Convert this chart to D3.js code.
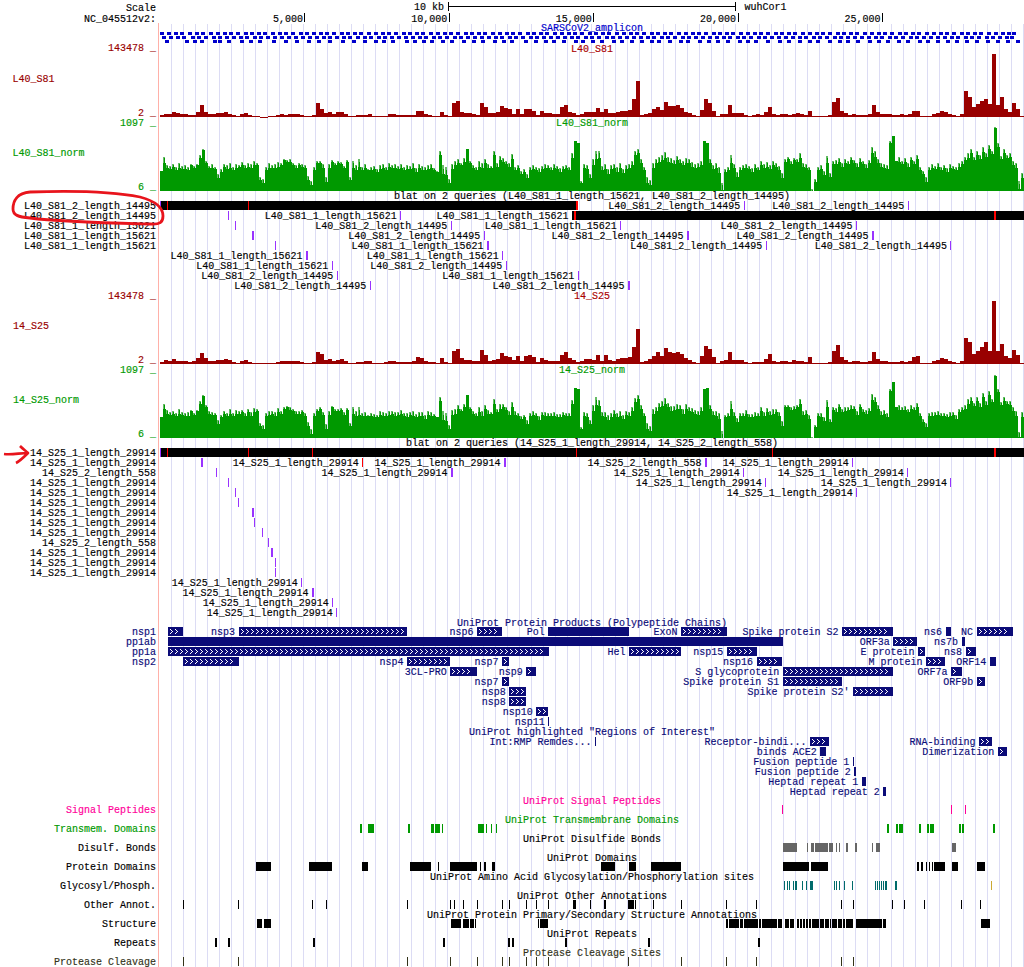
<!DOCTYPE html>
<html><head><meta charset="utf-8">
<script src="https://cdn.jsdelivr.net/npm/d3@7"></script>
<style>html,body{margin:0;padding:0;background:#fff;overflow:hidden}svg{display:block}
text{font-family:"Liberation Mono","DejaVu Sans Mono",monospace;font-size:10px;white-space:pre;stroke:currentColor;stroke-width:.15px}</style>
</head><body><div id="c"></div>
<script>
const genomeLength = 29903;
const ntPerBin = 34.63;
const rulerTicks = [5000,10000,15000,20000,25000];
const gridBins = d3.range(0,72);

const coverageS81 = [2,3,3,5,4,3,3,2,2,5,12,5,3,3,4,4,5,3,2,1,3,4,2,1,1,.5,.5,1,1,2,3,2,3,3,3,2,1,1,2,14,8,4,5,3,5,5,3,1,1,2,2,2,3,1,1,1,1.5,3,3,2,2,2,2,2,6,6,3,2,1,1,5,2,1,14,16,5,4,4,3,2,14,10,4,4,5,11,9,8,
3,8,3,8,8,6,2,6,4,4,3,3,10,12,5,4,2,3,5,5,5,9,5,8,4,4,5,6,6,7,18,36,2,3,4,8,10,7,15,11,11,12,9,5,4,2,1,7,18,14,6,1,3,3,12,4,4,4,2,1,2,3,2,5,10,3,2,3,3,2,3,4,3,2,6,1,1,1,1,2,15,19,6,4,2,3,2,2,2,3,12,5,3,3,3,2,2,3,2,3,6,6,1,1,1,3,4,6,5,3,2,1,3,26,20,10,13,16,18,13,63,12,20,8,5,14,8,1];
const coverageS25 = [2,4,3,5,3,3,3,2,3,6,11,6,3,3,4,4,5,4,2,1,3,4,2,1,1,.5,.5,1,1,2,3,3,3,3,3,2,1,1,2,12,10,4,5,3,4,5,3,1,1,2,2,3,3,1,1,1,2,3,3,2,2,2,2,3,7,6,3,2,2,1,6,2,1,13,15,6,4,4,3,3,14,9,3,4,5,11,8,7,
4,8,3,8,9,7,2,6,4,3,3,3,9,12,6,4,2,3,5,5,4,9,3,9,4,3,5,6,6,7,17,35,2,3,5,8,12,8,16,12,11,12,10,6,4,2,1,8,18,15,7,1,3,4,12,4,4,4,2,1,2,2,2,5,10,3,2,3,3,2,4,3,3,2,7,1,1,1,1,2,13,19,7,4,2,3,3,2,2,3,12,5,3,3,2,2,2,3,2,3,7,8,1,1,1,3,4,6,5,3,2,1,3,26,22,10,13,17,22,13,63,13,20,8,6,14,9,1];

const maxS81 = [20,34,26,25,27,24,28,25,26,24,27,25,27,36,42,30,25,27,24,17,22,27,26,28,24,27,26,29,26,28,27,30,28,14,12,24,28,26,27,29,28,32,31,32,28,26,28,27,26,15,10,24,30,30,27,14,27,31,28,30,29,25,31,14,30,26,32,24,27,22,24,25,22,26,27,24,28,26,27,25,27,24,26,25,28,23,27,25,24,26,27,23,20,40,26,24,12,27,30,32,28,33,42,30,26,24,30,28,32,27,25,40,28,35,33,30,28,37,
24,26,20,22,17,24,26,24,23,25,27,26,24,27,25,23,25,26,24,38,50,48,10,27,26,17,32,40,40,25,27,22,26,27,24,28,22,26,27,30,40,42,32,24,14,11,28,32,34,36,39,34,33,31,35,32,30,33,32,29,27,28,30,50,48,32,26,28,24,8,22,24,36,27,19,24,26,27,25,23,27,24,30,27,29,26,30,28,25,18,32,34,30,33,32,38,28,27,24,2,12,24,26,20,35,18,30,31,33,28,32,30,34,31,28,33,30,27,31,44,40,32,28,27,26,50,55,30,34,30,33,28,34,30,36,24,20,14,24,27,25,28,24,26,23,27,25,24,28,30,34,38,42,34,40,36,44,38,46,40,64,48,35,42,36,38,30,28,10,18];
const meanS81 = [20,24,20,19,21,18,20,19,19,18,22,20,22,28,34,24,20,20,19,12,17,21,19,20,18,20,21,22,20,21,20,22,22,10,8,18,20,20,20,21,22,26,25,25,22,20,22,21,20,10,6,18,24,24,20,9,20,25,22,24,23,20,25,10,20,18,21,18,20,18,18,19,17,19,20,18,21,20,20,19,20,18,19,19,20,17,20,18,18,19,20,18,17,30,15,14,8,19,22,24,22,25,36,24,20,18,21,20,24,20,20,30,21,26,25,23,21,27,
18,20,15,17,12,18,19,18,17,19,20,20,18,20,19,17,19,20,18,28,48,46,8,20,19,12,22,27,28,18,19,15,19,20,17,20,16,19,20,22,30,32,24,18,8,6,20,24,25,26,28,25,24,23,26,24,22,24,24,21,20,21,22,44,40,24,19,20,16,2,17,18,24,20,13,18,20,20,19,17,20,18,22,20,21,19,22,21,18,12,25,27,23,26,25,28,21,20,18,1,9,18,19,14,24,13,23,23,25,21,24,23,26,24,21,25,23,20,24,32,29,24,21,20,19,40,48,27,25,23,25,21,26,23,27,18,15,9,18,20,19,21,18,20,17,20,19,18,21,23,26,28,32,26,30,27,33,29,35,31,52,37,27,32,28,29,22,20,3,12];
const maxS25 = [21,34,28,26,27,25,29,26,25,26,28,25,28,37,43,33,27,26,25,18,23,27,25,29,25,28,27,28,25,29,26,30,29,15,13,25,27,27,26,30,27,31,32,31,29,27,27,28,25,16,9,25,29,31,26,14,27,32,29,29,30,26,30,15,31,27,31,25,26,23,25,24,23,27,26,25,27,27,26,26,28,25,25,26,27,24,26,26,23,27,26,24,21,41,27,25,13,28,29,33,29,34,43,31,27,25,31,27,33,28,26,39,29,34,34,31,27,36,
27,25,22,23,18,25,27,25,22,26,26,25,25,26,24,24,26,25,25,38,50,49,11,26,25,18,33,41,38,26,26,23,25,28,25,27,23,27,26,31,40,43,33,25,15,12,29,31,35,37,40,35,32,32,34,33,29,34,31,30,28,27,31,49,50,33,27,27,25,7,23,25,37,26,20,25,25,28,24,24,26,25,31,26,30,27,29,29,26,17,33,33,31,32,33,39,27,28,23,1,13,25,25,21,38,19,31,30,34,29,31,31,33,32,27,34,29,28,30,44,41,33,27,28,25,49,56,31,33,31,32,29,33,31,35,25,19,15,25,26,26,27,25,25,24,26,26,23,29,31,33,39,41,35,41,35,45,37,47,39,63,49,36,41,37,37,31,27,6,26];
const meanS25 = [20,25,21,20,21,19,21,20,19,19,23,20,23,29,35,26,21,20,20,13,18,21,19,21,19,21,21,22,19,22,19,22,23,11,9,19,20,21,19,22,21,25,26,24,23,21,21,22,19,11,5,19,23,25,20,9,20,26,23,23,24,20,24,11,21,19,20,19,19,19,19,18,18,20,19,19,20,21,19,20,21,19,18,20,19,18,19,19,17,20,19,19,18,31,16,15,9,20,21,25,23,26,37,25,21,19,22,19,25,21,21,29,22,25,26,24,20,26,
20,19,17,18,13,19,20,19,16,20,19,19,19,19,18,18,20,19,19,29,48,47,9,19,18,13,23,28,27,19,18,16,18,21,18,19,17,20,19,23,30,33,25,19,9,7,21,23,26,27,29,26,23,24,25,25,21,25,23,22,21,20,23,43,42,25,20,19,17,1,18,19,25,19,14,19,19,21,18,18,19,19,23,19,22,20,21,22,19,11,26,26,24,25,26,29,20,21,17,1,10,19,18,15,26,14,24,22,26,22,23,24,25,25,20,26,22,21,23,32,30,25,20,21,18,39,49,28,24,24,24,22,25,24,26,19,14,10,19,19,20,20,19,19,18,19,20,17,22,24,25,29,31,27,31,26,34,28,36,30,51,38,28,31,29,28,23,19,2,18];

const ampliconRow1 = [0,7,14,20,28,35,41,49,56,63,69,76,84,90,97,103,111,118,124,131,139,145,152,159,165,172,180,186,193,199,207,214,221,227,234,242,248,255,261,269,276,283,289,296,304,310,317,323,331,338,345,351,358,366,372,379,385,393,400,407,413,420,428,434,441,447,455,462,469,475,482,490,496,503,509,517,524,531,537,544,552,558,565,571,579,586,593,599,606,614,620,627,633,641,648,655,661,668,676,682,689,695,703,710,717,723,730,738,744,751,757,765,772,779,785,792,800,806,813,819,827,834,841,847,852];
const ampliconRow2 = [2,9,16,22,31,37,44,52,58,65,72,79,85,93,99,106,113,120,127,134,141,148,155,162,168,175,182,188,196,203,209,217,223,230,237,244,251,258,264,272,278,285,293,299,306,313,320,327,334,340,348,354,361,369,375,382,389,396,403,410,416,424,430,437,445,451,458,465,472,479,486,492,500,506,513,521,527,534,541,548,555,562,568,576,582,589,597,603,610,617,624,631,638,644,652,658,665,673,679,686,693,700,707,714,720,728,734,741,749,755,762,769,776,783,790,796,804,810,817,825,831,838,845,850];
const ampliconRow3 = [5,25,33,40,53,58,67,80,89,98,112,124,135,147,157,168,181,192,203,214,222,231,245,253,262,270,281,290,302,312,321,333,342,350,364,374,384,392,402,414,421,431,440,452,460,470,480,490,497,508,519,526,538,547,556,566,578,586,594,606,618,627,638,648,656,668,678,686,696,708,717,726,737,746,758,766,776,786,795,805,815,826,836,846,856];

const qS81a = "L40_S81_1_length_15621", qS81b = "L40_S81_2_length_14495";
const qS25a = "14_S25_1_length_29914", qS25b = "14_S25_2_length_558";
const blatHitsS81 = [[0,qS81b,583.7,1],[0,qS81b,747.7,1],[1,qS81b,68.3,1],[1,qS81a,240.3,1],[2,qS81a,75,1],[2,qS81b,290.7,1],[2,qS81a,460.3,1],[2,qS81b,696,1],[3,qS81a,92,2],[3,qS81b,323.7,1],[3,qS81b,527,2],[3,qS81b,712,2],[4,qS81a,115,1],[4,qS81a,327,2],[4,qS81b,605.7,1],[4,qS81b,790.3,1],[5,qS81a,146,2],[5,qS81a,342.3,1],[6,qS81a,171.7,1],[6,qS81b,345.7,1],[7,qS81b,176.7,1],[7,qS81a,417.7,1],[8,qS81b,209.7,1],[8,qS81b,468,2]];
const blatHitsS25 = [[1,qS25a,41,2],[1,qS25a,344,2],[1,qS25b,545,2],[1,qS25a,692.3,1],[2,qS25b,56.3,1],[2,qS25a,291,2],[2,qS25a,583.3,1],[2,qS25a,747.3,1],[3,qS25a,68.3,1],[3,qS25a,605.3,1],[3,qS25a,790.3,1],[4,qS25a,75.3,1],[4,qS25a,696.3,1],[5,qS25a,78.3,1],[6,qS25a,92,2],[7,qS25a,94.3,1],[8,qS25a,102.3,1],[9,qS25b,108.3,1],[10,qS25a,111,2],[11,qS25a,115.3,1],[12,qS25a,115.3,1],[13,qS25a,141.3,1],[14,qS25a,152,2],[15,qS25a,172.3,1],[16,qS25a,176.3,1]];
const redHitS25 = [[1,qS25a,202.3,1]];
const blatBoxesS81 = [[0,qS81b,0,417.7],[1,qS81a,412,864]];
const blatBoxesS25 = [[0,qS25a,0,864]];
const blatRedS81 = [[0,7,1],[0,88,1],[0,416,1.5],[1,414,1.5],[1,834,2]];
const blatRedS25 = [[0,7,1],[0,88,1],[0,152.3,1],[0,416.3,1],[0,612.3,1],[0,834,2]];

const proteinChains = [["nsp1",266,805,0,1],["nsp3",2720,8554,0,1],["nsp6",10973,11842,0,1],["Pol",13442,16236,0,0],["ExoN",18040,19620,0,1],["Spike protein S2",23615,25384,0,1],["ns6",27202,27387,0,0],["NC",28274,29533,0,1],
["pp1ab",266,21555,1,0],["ORF3a",25393,26220,1,1],["ns7b",27756,27887,1,0],
["pp1a",266,13483,2,1],["Hel",16237,18039,2,1],["nsp15",19621,20658,2,1],["E protein",26245,26472,2,1],["ns8",27894,28259,2,1],
["nsp2",806,2719,3,1],["nsp4",8555,10054,3,1],["nsp7",11843,12091,3,1],["nsp16",20659,21552,3,1],["M protein",26523,27191,3,1],["ORF14",28734,28955,3,0],
["3CL-PRO",10055,10972,4,1],["nsp9",12686,13024,4,1],["S glycoprotein",21563,25384,4,1],["ORF7a",27394,27759,4,1],
["nsp7",11843,12091,5,1],["Spike protein S1",21563,23615,5,1],["ORF9b",28284,28577,5,1],
["nsp8",12092,12685,6,1],["Spike protein S2'",24000,25384,6,1],
["nsp8",12092,12685,7,1],["nsp10",13025,13441,8,1],["nsp11",13442,13480,9,0]];
const regionsOfInterest = [["Int:RMP Remdes...",15060,15100,0,0],["Receptor-bindi...",22507,23165,0,1],["RNA-binding",28360,28810,0,1],["binds ACE2",22860,23060,1,0],["Dimerization",29010,29330,1,1],["Fusion peptide 1",23990,24045,2,0],["Fusion peptide 2",24040,24095,3,0],["Heptad repeat 1",24300,24445,4,0],["Heptad repeat 2",25040,25145,5,0]];

const signalBlocks = [[622.3,1],[791.3,1],[805.3,1]];
const transmemBlocks = [[200,2],[208,6],[248,2],[271,3],[275,5],[282,1],[318,6],[326,1],[331,1],[336,1],[727,2],[736,2],[739,4],[759,2],[767,2],[770,4],[799,2],[802,2],[833,2]];
const disulfBlocks = [[623,14],[647,1],[651,3],[655,13],[669,4],[676,1],[679,1],[686,2],[695,2],[712,1],[716,4],[792,4]];
const domainBlocks = [[96,15],[149,23],[202,6],[250,21],[278,1],[290,27],[320,1],[324,2],[332,3],[441,14],[469,7],[491,30],[623,26],[651,17],[757,2],[761,2],[766,1],[769,1],[772,1],[774,11],[792,6],[817,8]];
const glycoBlocks = [[624,1],[627,1],[629,1],[633,1],[635,2],[642,1],[646,1],[650,3],[674,1],[676,1],[679,1],[684,1],[692,1],[715,1],[717,1],[719,1],[721,1],[723,1],[725,1],[726,1],[735,2]];
const glycoYellowBlocks = [[831,1]];
const otherBlocks = [[23.3,1],[78.3,1],[152.3,1],[166.3,1],[247.3,1],[290.3,1],[294.3,1],[303.3,1],[317.3,1],[342.3,1],[349.3,1],[366.3,1],[376.3,1],[388.3,1],[413,3],[430.3,1],[444,2],[468,6],[475.3,1],[493.3,1],[521.3,1],[566.3,1],[596.3,1],[681.3,1],[693.3,1],[732.3,1],[744.3,1],[764.3,1],[801.3,1],[820.3,1]];
const structureBlocks = [[97,5],[103.5,7.5],[291,10],[303,6],[310,4],[315,1],[378,1],[380,8],[566,2],[569,10],[580,3],[584,14],[599,2],[602,15],[618,4],[625,4],[630,4],[637,2],[640,2],[643,2],[646,2],[649,2],[652,7],[660,4],[665,4],[670,1],[672,5],[678,4],[683,2],[686,7],[696,26],[723,3],[821,9]];
const repeatBlocks = [[55,2],[68,2],[153,2],[283,2],[348,2],[352,2],[405,2],[488,2],[598,2]];
const proteaseBlocks = [[23.3,1],[78.3,1],[247.3,1],[290.3,1],[317.3,1],[342.3,1],[349.3,1],[366.3,1],[376.3,1],[388.3,1],[468.3,1],[521.3,1],[566.3,1],[596.3,1],[681.3,1],[693.3,1]];

const W=1024,H=967;
const svg=d3.select("#c").append("svg").attr("width",W).attr("height",H);
const x=d3.scaleLinear().domain([0,genomeLength]).range([160,1023.6]);
const xb=b=>x(b*ntPerBin);
const NAVY="#0c0c78",RED="#990000",GREEN="#009900",LGREEN="#66bb66",PURPLE="#9933ff";
const g=svg.append("g").attr("shape-rendering","crispEdges");
function txt(s,px,py,anchor,fill){return svg.append("text").attr("x",px).attr("y",Math.round(py+3.5)).attr("text-anchor",anchor||"start").attr("fill",fill||"#000").style("color",fill||"#000").text(s);}
const titleX=592;

g.append("g").selectAll("line").data(gridBins).join("rect").attr("x",i=>171+i*12).attr("y",24).attr("width",1).attr("height",H-24).attr("fill","#dcdcf4");
g.append("rect").attr("x",158).attr("y",23).attr("width",1).attr("height",H-23).attr("fill","#ffb0a8");

txt("Scale",156,7,"end");
txt("NC_045512v2:",156,18,"end");
txt("10 kb",444,6,"end");
txt("wuhCor1",744.5,6);
const scaleStart=Math.round(x(9975)), scaleEnd=Math.round(x(19915));
g.append("rect").attr("x",scaleStart).attr("y",6).attr("width",scaleEnd-scaleStart).attr("height",1).attr("fill","#000");
[scaleStart,scaleEnd].forEach(v=>g.append("rect").attr("x",v).attr("y",2).attr("width",1).attr("height",9).attr("fill","#000"));
rulerTicks.forEach(t=>{
  g.append("rect").attr("x",Math.round(x(t))).attr("y",13).attr("width",1).attr("height",9).attr("fill","#000");
  txt(d3.format(",")(t),x(t)-1.5,18,"end");
});

txt("SARSCoV2_amplicon",titleX,27,"middle","#0000cc");
[ampliconRow1,ampliconRow2,ampliconRow3].forEach((row,r)=>{
  g.append("g").selectAll("rect").data(row).join("rect").attr("x",d=>xb(d)).attr("y",32+r*4).attr("width",d=>Math.min(xb(d+4),1024)-xb(d)).attr("height",3).attr("fill","#0000cc");
});

function coverage(vals,base,color){
  const binNt=genomeLength/vals.length;
  const y=d3.scaleLinear().domain([0,69]).range([base,base-69]);
  g.append("g").selectAll("rect").data(vals).join("rect")
   .attr("x",(d,i)=>Math.round(x(i*binNt))).attr("width",(d,i)=>Math.round(x((i+1)*binNt))-Math.round(x(i*binNt)))
   .attr("y",d=>y(d)).attr("height",d=>Math.max(base-y(d),1)).attr("fill",color);
}
// whiskers: light maximum per bin, dark mean with a narrower upper part
function wiggle(maxV,meanV,base){
  const binNt=genomeLength/maxV.length;
  const y=d3.scaleLinear().domain([0,69]).range([base,base-69]);
  const yMean=d3.scaleLinear().domain([0,55]).range([base,base-69]);
  const px=(i)=>Math.round(x(i*binNt));
  g.append("g").selectAll("rect").data(maxV).join("rect")
   .attr("x",(d,i)=>px(i)).attr("width",2).attr("y",d=>y(d)).attr("height",d=>base-y(d)).attr("fill",LGREEN);
  g.append("g").selectAll("rect").data(meanV).join("rect")
   .attr("x",(d,i)=>px(i)).attr("width",3)
   .attr("y",(d,i)=>Math.max(yMean(d)+2,y(maxV[i]))).attr("height",(d,i)=>base-Math.max(yMean(d)+2,y(maxV[i]))).attr("fill",GREEN);
  g.append("g").selectAll("rect").data(meanV).join("rect")
   .attr("x",(d,i)=>px(i)+1).attr("width",1)
   .attr("y",(d,i)=>Math.max(yMean(d)-3,y(maxV[i])+1)).attr("height",(d,i)=>base-Math.max(yMean(d)-3,y(maxV[i])+1)).attr("fill",GREEN);
}
function axisLabels(hi,lo,color,py0,py1){
  txt(hi+" _",156,py0,"end",color); txt(lo+" _",156,py1,"end",color);
}
txt("L40_S81",titleX,48,"middle","#aa0000");
axisLabels("143478","2",RED,47.5,112);
txt("L40_S81",12.5,78,"start",RED);
coverage(coverageS81,117,RED);
txt("L40_S81_norm",titleX,122,"middle",GREEN);
axisLabels("1097","6",GREEN,122,186);
txt("L40_S81_norm",12.5,152,"start",GREEN);
wiggle(maxS81,meanS81,191);
txt("14_S25",titleX,295,"middle","#aa0000");
axisLabels("143478","2",RED,295,359);
txt("14_S25",13,325,"start",RED);
coverage(coverageS25,363.5,RED);
txt("14_S25_norm",titleX,369,"middle",GREEN);
axisLabels("1097","6",GREEN,369,433);
txt("14_S25_norm",13,399,"start",GREEN);
wiggle(maxS25,meanS25,438);

function hitLabel(s,anchorX,cy,fill){
  const w=s.length*6;
  if(anchorX-3.5-w<160) txt(s,156,cy,"end",fill); else txt(s,anchorX-3.5,cy,"end",fill);
}
function blat(top,title,hits,boxes,reds,redHits){
  txt(title,titleX,top-5.5,"middle");
  const rowY=r=>top+r*10;
  g.append("g").selectAll("rect").data(boxes).join("rect").attr("x",d=>xb(d[2])).attr("width",d=>Math.min(xb(d[3]),1024)-xb(d[2])).attr("y",d=>rowY(d[0])).attr("height",9).attr("fill","#000");
  boxes.forEach(d=>hitLabel(d[1],xb(d[2]),rowY(d[0])+4.5));
  g.append("rect").attr("x",160).attr("y",top).attr("width",1).attr("height",9).attr("fill",PURPLE);
  g.append("g").selectAll("rect").data(reds).join("rect").attr("x",d=>xb(d[1])).attr("width",d=>d[2]).attr("y",d=>rowY(d[0])).attr("height",9).attr("fill","#ff0000");
  [[hits,PURPLE],[redHits,"#ff0000"]].forEach(([list,col])=>{
    g.append("g").selectAll("rect").data(list).join("rect").attr("x",d=>xb(d[2])).attr("width",d=>d[3]).attr("y",d=>rowY(d[0])).attr("height",9).attr("fill",col);
    list.forEach(d=>hitLabel(d[1],xb(d[2]),rowY(d[0])+4.5));
  });
}
blat(201,"blat on 2 queries (L40_S81_1_length_15621, L40_S81_2_length_14495)",blatHitsS81,blatBoxesS81,blatRedS81,[]);
blat(448,"blat on 2 queries (14_S25_1_length_29914, 14_S25_2_length_558)",blatHitsS25,blatBoxesS25,blatRedS25,redHitS25);

function boxes(list,top){
  const yOf=r=>top+r*10;
  g.append("g").selectAll("rect").data(list).join("rect").attr("x",d=>x(d[1])).attr("width",d=>Math.max(x(d[2])-x(d[1]),1)).attr("y",d=>yOf(d[3])).attr("height",9).attr("fill",NAVY);
  list.forEach(d=>{
    hitLabel(d[0],x(d[1]),yOf(d[3])+4.5,NAVY);
    if(d[4]){
      const wd=x(d[2])-x(d[1]);
      const n=Math.max(1,Math.floor((wd-2)/5));
      svg.append("path").attr("fill","none").attr("stroke","#fff").attr("stroke-width",1).attr("shape-rendering","crispEdges")
       .attr("d",d3.range(n).map(k=>{const cx=Math.round(x(d[1]))+2+k*5,cy=yOf(d[3])+4.5;return `M${cx},${cy-2.5}L${cx+2.5},${cy}L${cx},${cy+2.5}`}).join(""));
    }
  });
}
txt("UniProt Protein Products (Polypeptide Chains)",titleX,622,"middle",NAVY);
boxes(proteinChains,627);
txt('UniProt highlighted "Regions of Interest"',titleX,731,"middle",NAVY);
boxes(regionsOfInterest,737);

const OLIVE="#333319",TEAL="#006b6b",PINK="#ff0099",GRAY="#666666";
const strips=[
 ["Signal Peptides","UniProt Signal Peptides",PINK,[[signalBlocks,PINK]]],
 ["Transmem. Domains","UniProt Transmembrane Domains",GREEN,[[transmemBlocks,GREEN]]],
 ["Disulf. Bonds","UniProt Disulfide Bonds","#000",[[disulfBlocks,GRAY]]],
 ["Protein Domains","UniProt Domains","#000",[[domainBlocks,"#000"]]],
 ["Glycosyl/Phosph.","UniProt Amino Acid Glycosylation/Phosphorylation sites","#000",[[glycoBlocks,TEAL],[glycoYellowBlocks,"#ccaa33"]]],
 ["Other Annot.","UniProt Other Annotations","#000",[[otherBlocks,"#000"]]],
 ["Structure","UniProt Protein Primary/Secondary Structure Annotations","#000",[[structureBlocks,"#000"]]],
 ["Repeats","UniProt Repeats","#000",[[repeatBlocks,"#000"]]],
 ["Protease Cleavage","Protease Cleavage Sites",OLIVE,[[proteaseBlocks,OLIVE]]]
];
strips.forEach((s,i)=>{
  const top=805+19*i;
  txt(s[1],titleX,top-5,"middle",s[2]);
  txt(s[0],156,top+4,"end",s[2]);
  s[3].forEach(([list,col])=>g.append("g").selectAll("rect").data(list).join("rect").attr("x",d=>xb(d[0])).attr("width",d=>xb(d[0]+d[1])-xb(d[0])).attr("y",top).attr("height",9).attr("fill",col));
});

svg.append("path").attr("fill","none").attr("stroke","#e8141c").attr("stroke-width",2.8).attr("stroke-linejoin","round")
 .attr("d","M30,192 C60,191 110,191 140,197 C155,201 163,208 163,216 C163,222 160,225 150,224 C110,223 60,222 30,218 C18,217 13,215 13,209 C13,201 17,193 30,192");
svg.append("path").attr("fill","none").attr("stroke","#e8141c").attr("stroke-width",2.6).attr("stroke-linejoin","round")
 .attr("d","M4,454 C12,455 20,453 28,453 M20,446 C23,449 26,451 28,453 C24,457 20,461 16,463");
</script></body></html>
